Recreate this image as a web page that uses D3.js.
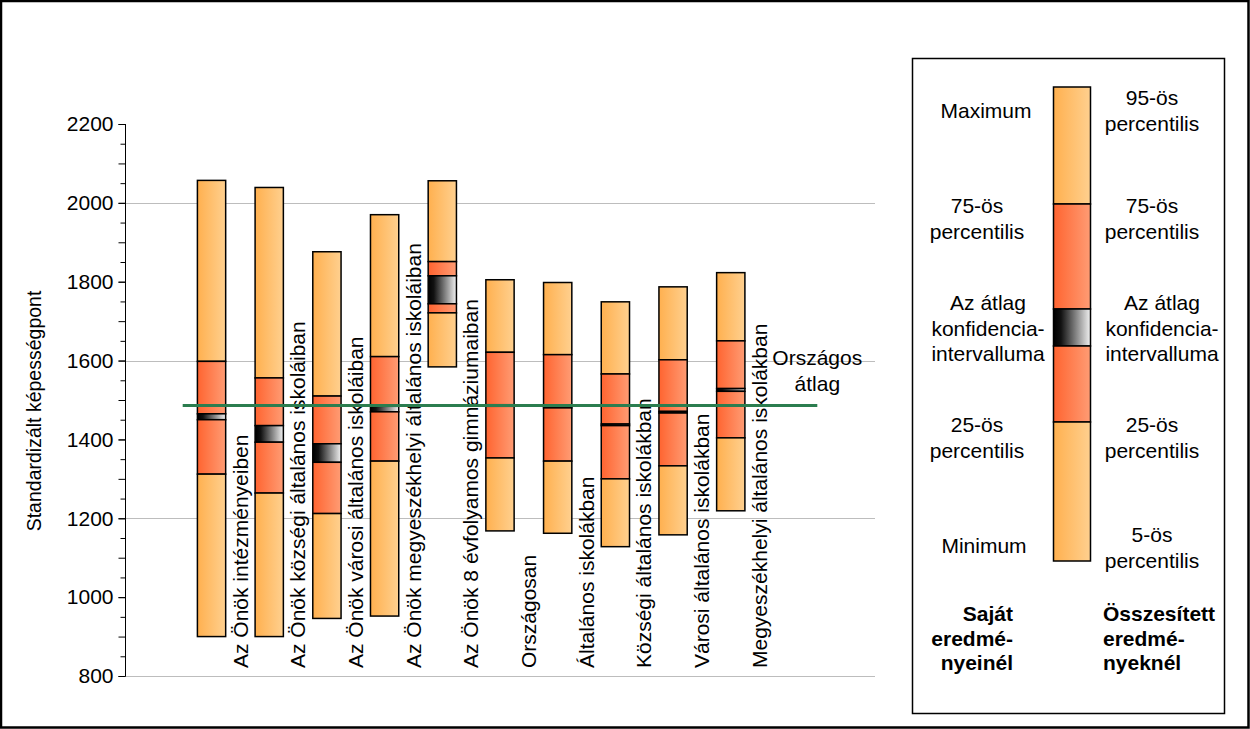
<!DOCTYPE html>
<html>
<head>
<meta charset="utf-8">
<script src="https://cdn.jsdelivr.net/npm/d3@7"></script>
<style>
  html, body { margin: 0; padding: 0; background: #fff; }
  svg { display: block; font-family: Arial, "Liberation Sans", sans-serif; }
</style>
</head>
<body>
<svg id="chart" width="1250" height="729"></svg>
<script>
// ---- data ----
const categories = [
  "Az Önök intézményeiben",
  "Az Önök községi általános iskoláiban",
  "Az Önök városi általános iskoláiban",
  "Az Önök megyeszékhelyi általános iskoláiban",
  "Az Önök 8 évfolyamos gimnáziumaiban",
  "Országosan",
  "Általános iskolákban",
  "Községi általános iskolákban",
  "Városi általános iskolákban",
  "Megyeszékhelyi általános iskolákban"
];
const topValues    = [2057, 2039, 1876, 1970, 2056, 1805, 1798, 1749, 1787, 1823]; // max / 95th
const q75Values    = [1598, 1556, 1510, 1610, 1851, 1621, 1615, 1566, 1602, 1650];
const ciHighValues = [1465, 1435, 1389, 1484, 1815, 1488, 1484, 1439, 1471, 1529];
const ciLowValues  = [1450, 1393, 1342, 1470, 1744, 1484, 1480, 1435, 1467, 1522];
const q25Values    = [1312, 1264, 1212, 1345, 1721, 1353, 1345, 1300, 1333, 1404];
const bottomValues = [900, 900, 946, 952, 1584, 1168, 1162, 1128, 1158, 1219];   // min / 5th
const nationalAverage = 1486;
const majorTicks = [800, 1000, 1200, 1400, 1600, 1800, 2000, 2200];
const gridTicks = [800, 1200, 1600, 2000];
const yAxisTitle = "Standardizált képességpont";
const averageLabel = ["Országos", "átlag"];
const legendLeft = [["Maximum"], ["75-ös", "percentilis"], ["Az átlag", "konfidencia-", "intervalluma"], ["25-ös", "percentilis"], ["Minimum"]];
const legendRight = [["95-ös", "percentilis"], ["75-ös", "percentilis"], ["Az átlag", "konfidencia-", "intervalluma"], ["25-ös", "percentilis"], ["5-ös", "percentilis"]];
const legendLeftTitle = ["Saját", "eredmé-", "nyeinél"];
const legendRightTitle = ["Összesített", "eredmé-", "nyeknél"];

// ---- layout ----
const svg = d3.select("#chart");
const W = 1250, H = 729;
const plotLeft = 125, plotRight = 875, plotTop = 124, plotBottom = 676;
const FONT = 21;

const slots = ["_p0", ...categories, "_p1", "_p2"];
const x = d3.scaleBand().domain(slots).range([plotLeft, plotRight]).paddingInner(0).paddingOuter(0);
const y = d3.scaleLinear().domain([800, 2200]).range([plotBottom, plotTop]);
const barW = x.bandwidth() * 0.49;

// gradients
const defs = svg.append("defs");
function grad(id, stops) {
  const g = defs.append("linearGradient").attr("id", id).attr("x1", 0).attr("x2", 1).attr("y1", 0).attr("y2", 0);
  stops.forEach(s => g.append("stop").attr("offset", s[0]).attr("stop-color", s[1]));
}
grad("gOuter", [[0, "#ffb04f"], [1, "#ffd08f"]]);
grad("gMid", [[0, "#ff6430"], [1, "#ff9c74"]]);
grad("gCI", [[0, "#000"], [0.2, "#111"], [1, "#f2f2f2"]]);

// border
svg.append("rect").attr("x", 1).attr("y", 1).attr("width", W - 2.5).attr("height", H - 2.5)
  .attr("fill", "none").attr("stroke", "#000").attr("stroke-width", 2.5);

// gridlines
svg.append("g").selectAll("line").data(gridTicks).join("line")
  .attr("x1", plotLeft).attr("x2", plotRight)
  .attr("y1", d => Math.round(y(d)) + 0.5).attr("y2", d => Math.round(y(d)) + 0.5)
  .attr("stroke", "#bdbdbd").attr("stroke-width", 1);

// y axis
const minor50 = d3.range(800, 2201, 50).filter(v => v % 100 !== 0);
const minor100 = d3.range(800, 2201, 100);
const axisG = svg.append("g").attr("transform", `translate(${plotLeft + 0.5},0)`);
axisG.append("g").call(d3.axisLeft(y).tickValues(minor50).tickSize(5).tickFormat(""))
  .call(g => g.select(".domain").remove());
axisG.append("g").call(d3.axisLeft(y).tickValues(minor100).tickSize(7).tickFormat(""))
  .call(g => g.select(".domain").remove());
axisG.append("g").call(d3.axisLeft(y).tickValues(majorTicks).tickSize(7).tickPadding(5).tickFormat(d3.format("d")))
  .call(g => g.select(".domain").attr("d", `M0,${plotTop}V${plotBottom}`))
  .call(g => g.selectAll("text").attr("font-size", FONT).attr("font-family", "Arial, 'Liberation Sans', sans-serif").attr("fill", "#000"));
axisG.selectAll("line, path").attr("stroke", "#000");

svg.append("text")
  .attr("transform", `translate(41,411) rotate(-90)`)
  .attr("text-anchor", "middle").attr("font-size", 19.5).text(yAxisTitle);

// category labels
svg.append("g").selectAll("text").data(categories).join("text")
  .attr("transform", d => `translate(${x(d) + x.bandwidth() / 2 + 36},668) rotate(-90)`)
  .attr("text-anchor", "start").attr("font-size", FONT).text(d => d);

// bars
const rows = categories.map((c, i) => ({
  c, segs: [
    [q75Values[i], topValues[i], "url(#gOuter)"],
    [ciHighValues[i], q75Values[i], "url(#gMid)"],
    [ciLowValues[i], ciHighValues[i], "url(#gCI)"],
    [q25Values[i], ciLowValues[i], "url(#gMid)"],
    [bottomValues[i], q25Values[i], "url(#gOuter)"]
  ]
}));
const barG = svg.append("g").selectAll("g").data(rows).join("g");
barG.selectAll("rect").data(d => d.segs.map(s => ({ c: d.c, lo: s[0], hi: s[1], fill: s[2] }))).join("rect")
  .attr("x", d => x(d.c) + (x.bandwidth() - barW) / 2)
  .attr("width", barW)
  .attr("y", d => y(d.hi))
  .attr("height", d => Math.max(0.5, y(d.lo) - y(d.hi)))
  .attr("fill", d => d.fill)
  .attr("stroke", "#000").attr("stroke-width", 1.5);

// national average line
svg.append("line")
  .attr("x1", x(categories[0])).attr("x2", x("_p2"))
  .attr("y1", y(nationalAverage)).attr("y2", y(nationalAverage))
  .attr("stroke", "#2b7d4f").attr("stroke-width", 3);
svg.append("g").selectAll("text").data(averageLabel).join("text")
  .attr("x", x("_p2")).attr("y", (d, i) => 365 + i * 26)
  .attr("text-anchor", "middle").attr("font-size", FONT).text(d => d);

// legend
svg.append("rect").attr("x", 912.5).attr("y", 58.5).attr("width", 312).attr("height", 655)
  .attr("fill", "none").attr("stroke", "#000").attr("stroke-width", 1.5);
const legBounds = [87, 204, 309, 346, 422, 561];
const legFills = ["url(#gOuter)", "url(#gMid)", "url(#gCI)", "url(#gMid)", "url(#gOuter)"];
svg.append("g").selectAll("rect").data(legFills).join("rect")
  .attr("x", 1053.5).attr("width", 37)
  .attr("y", (d, i) => legBounds[i]).attr("height", (d, i) => legBounds[i + 1] - legBounds[i])
  .attr("fill", d => d).attr("stroke", "#000").attr("stroke-width", 1.5);

const leftBase = [118, 213, 310, 432, 553];
const rightBase = [105, 213, 310, 432, 542];
const leftX = [986, 977, 988, 977, 984];
const rightX = [1152, 1152, 1162, 1152, 1152];
const legText = svg.append("g").attr("font-size", FONT).attr("text-anchor", "middle");
legendLeft.forEach((lines, i) => lines.forEach((t, j) =>
  legText.append("text").attr("x", leftX[i]).attr("y", leftBase[i] + j * 25.5).text(t)));
legendRight.forEach((lines, i) => lines.forEach((t, j) =>
  legText.append("text").attr("x", rightX[i]).attr("y", rightBase[i] + j * 25.5).text(t)));
svg.append("g").attr("font-size", FONT).attr("font-weight", "bold").attr("text-anchor", "end")
  .selectAll("text").data(legendLeftTitle).join("text")
  .attr("x", 1013).attr("y", (d, i) => 621 + i * 24.5).text(d => d);
svg.append("g").attr("font-size", FONT).attr("font-weight", "bold").attr("text-anchor", "start")
  .selectAll("text").data(legendRightTitle).join("text")
  .attr("x", 1103).attr("y", (d, i) => 621 + i * 24.5).text(d => d);
</script>
</body>
</html>
